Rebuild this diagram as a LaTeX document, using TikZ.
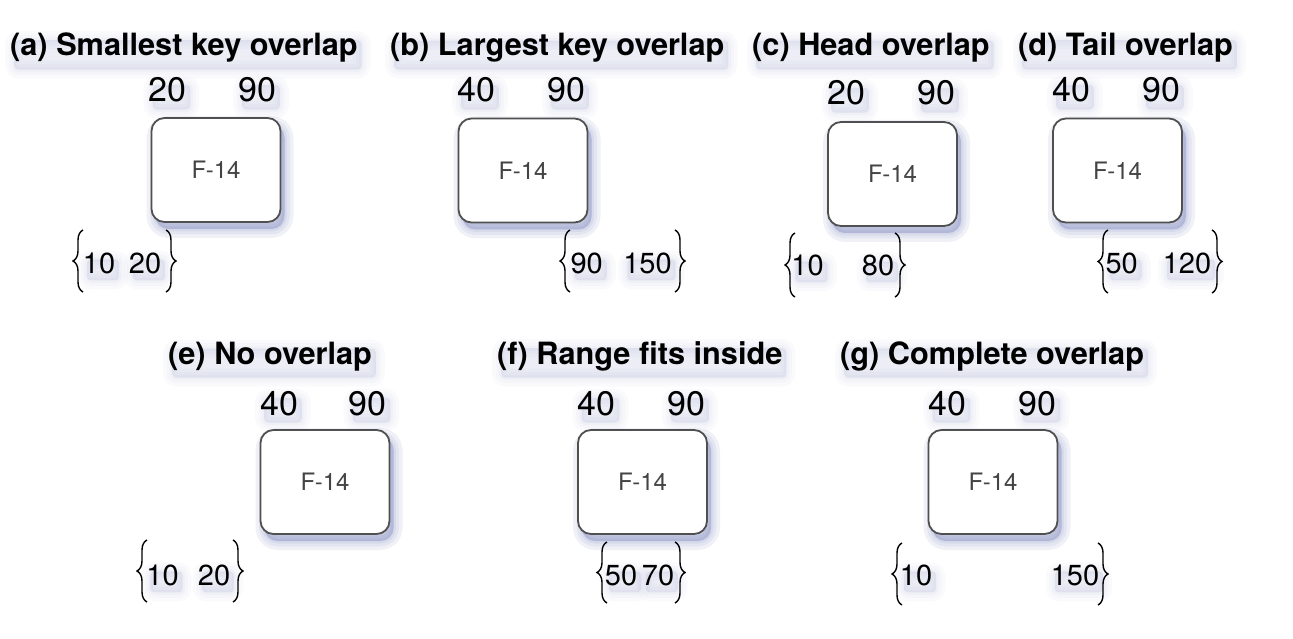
\documentclass[tikz,border=0pt]{standalone}
\usepackage{fontspec}
\setmainfont{TeX Gyre Heros}
\usetikzlibrary{decorations.pathreplacing}
\definecolor{bx01}{HTML}{505050}
\definecolor{tx01}{HTML}{444444}
\definecolor{sh01}{HTML}{6E78B4}
\tikzset{
  haze/.style={draw=sh01, fill=sh01, line join=round, transform canvas={xshift=4pt, yshift=-7pt}},
  softshadow/.style={
    preaction={haze, opacity=#1, line width=18pt},
    preaction={haze, opacity=#1, line width=11pt},
    preaction={haze, opacity=#1, line width=5pt},
    preaction={haze, opacity=#1, line width=0.1pt}},
  keybox/.style={rectangle, rounded corners=13pt, draw=bx01, line width=1.8pt, fill=white,
    minimum width=129pt, minimum height=104pt, text=tx01, font=\fontsize{24}{24}\selectfont, softshadow=0.1},
  title/.style={anchor=base west, inner sep=0pt, rounded corners=4pt, font=\fontsize{30.7}{30.7}\selectfont\bfseries, softshadow=0.035},
  key/.style={anchor=base, inner sep=0pt, rounded corners=4pt, font=\fontsize{34}{34}\selectfont, softshadow=0.035},
  rng/.style={anchor=base, inner sep=0pt, rounded corners=4pt, font=\fontsize{29}{29}\selectfont, softshadow=0.035},
  brc/.style={decorate, decoration={brace, amplitude=10pt}, line width=1.4pt},
}
\begin{document}
\begin{tikzpicture}[x=1pt,y=-1pt]
            \useasboundingbox (0,0) rectangle (1293,639);
            % row one
            \node[title] (ta) at (10,56) {(a) Smallest key overlap};
            \node[title] (tb) at (390,56) {(b) Largest key overlap};
            \node[title] (tc) at (752,56) {(c) Head overlap};
            \node[title] (td) at (1018,56) {(d) Tail overlap};
            \node[key] (ka1) at (167.5,102) {20};
            \node[key] (ka2) at (257,102) {90};
            \node[key] (kb1) at (476,102) {40};
            \node[key] (kb2) at (566,102) {90};
            \node[key] (kc1) at (846,105) {20};
            \node[key] (kc2) at (936,105) {90};
            \node[key] (kd1) at (1071,102) {40};
            \node[key] (kd2) at (1161,102) {90};
            \node[keybox] (fa) at (216,170) {F-14};
            \node[keybox] (fb) at (523,170.5) {F-14};
            \node[keybox] (fc) at (892.5,174) {F-14};
            \node[keybox] (fd) at (1117.5,170.5) {F-14};
            \node[rng] (ra1) at (99,273) {10};
            \node[rng] (ra2) at (145,273) {20};
            \node[rng] (rb1) at (586.7,273) {90};
            \node[rng] (rb2) at (647.5,273) {150};
            \node[rng] (rc1) at (807.5,275) {10};
            \node[rng] (rc2) at (878,275) {80};
            \node[rng] (rd1) at (1121.7,273) {50};
            \node[rng] (rd2) at (1187,273) {120};
            \draw[brc] (83,292) -- (83,230);
            \draw[brc] (166,230) -- (166,292);
            \draw[brc] (570,292) -- (570,230);
            \draw[brc] (675,230) -- (675,292);
            \draw[brc] (795,297) -- (795,233);
            \draw[brc] (895,233) -- (895,297);
            \draw[brc] (1108,293) -- (1108,230);
            \draw[brc] (1212,230) -- (1212,293);
            % row two
            \node[title] (te) at (168,364) {(e) No overlap};
            \node[title] (tf) at (497,364) {(f) Range fits inside};
            \node[title] (tg) at (840,364) {(g) Complete overlap};
            \node[key] (ke1) at (279,415) {40};
            \node[key] (ke2) at (367.5,415) {90};
            \node[key] (kf1) at (596.5,415) {40};
            \node[key] (kf2) at (686,415) {90};
            \node[key] (kg1) at (947.5,415) {40};
            \node[key] (kg2) at (1037.5,415) {90};
            \node[keybox] (fe) at (325,482) {F-14};
            \node[keybox] (ff) at (642.5,482) {F-14};
            \node[keybox] (fg) at (993,482) {F-14};
            \node[rng] (re1) at (162.5,585) {10};
            \node[rng] (re2) at (214,585) {20};
            \node[rng] (rf1) at (621,585) {50};
            \node[rng] (rf2) at (658,585) {70};
            \node[rng] (rg1) at (916,585) {10};
            \node[rng] (rg2) at (1075,585) {150};
            \draw[brc] (147,602) -- (147,540);
            \draw[brc] (233,540) -- (233,602);
            \draw[brc] (607,603) -- (607,542);
            \draw[brc] (675,542) -- (675,603);
            \draw[brc] (902,605) -- (902,543);
            \draw[brc] (1098,543) -- (1098,605);
        \end{tikzpicture}
\end{document}
